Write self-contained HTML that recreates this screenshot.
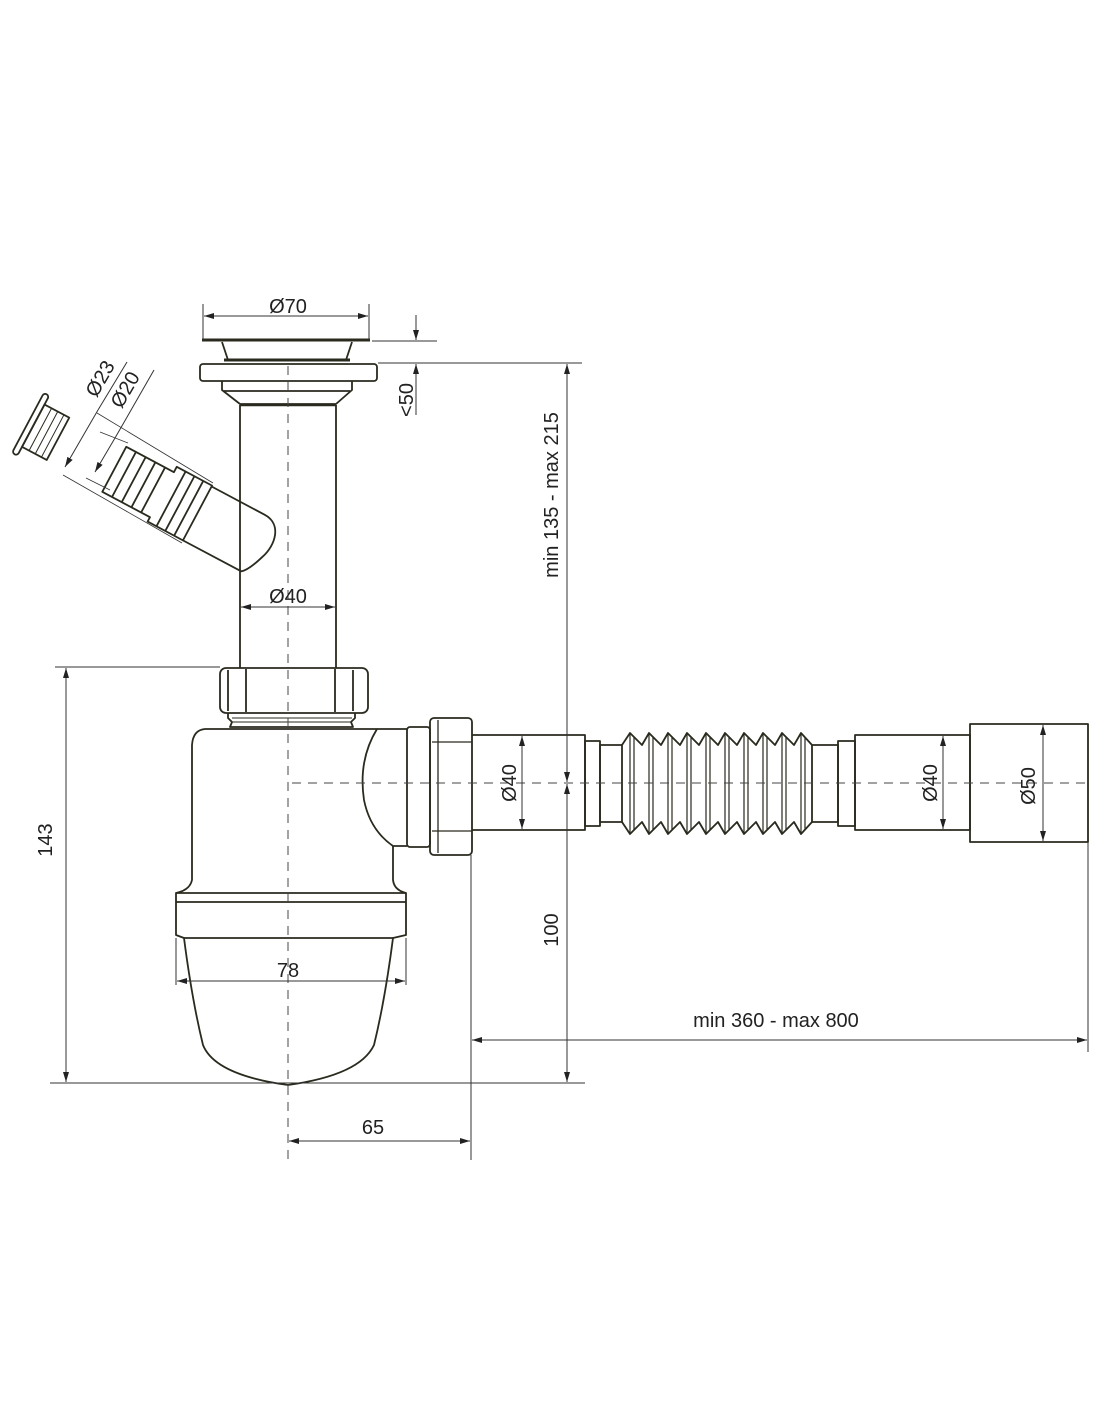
<!DOCTYPE html>
<html><head><meta charset="utf-8"><style>
html,body{margin:0;padding:0;background:#fff;}
svg{display:block}
text{font-family:"Liberation Sans",sans-serif;font-size:20px;fill:#222;}
</style></head><body>
<svg width="1100" height="1422" viewBox="0 0 1100 1422" xmlns="http://www.w3.org/2000/svg">
<defs>
<marker id="a" viewBox="0 0 10 6" refX="10" refY="3" markerWidth="10" markerHeight="6" orient="auto-start-reverse" markerUnits="userSpaceOnUse"><path d="M0,0 L10,3 L0,6 z" fill="#222"/></marker>
</defs>
<g fill="none" stroke="#2a2a1e" stroke-width="1.8" stroke-linejoin="round">
<path d="M202,340 L370,340" stroke-width="3"/>
<path d="M222,342 L228,360 L346,360 L352,342"/>
<path d="M224,360 L350,360" stroke-width="3"/>
<rect x="200" y="364" width="177" height="17" rx="3"/>
<path d="M222,381 L222,390 L240,404 L336,404 L352,390 L352,381"/>
<path d="M224,391 L350,391"/>
<path d="M240,405 L336,405" stroke-width="2.5"/>
<path d="M240,405 L240,668 M336,405 L336,668"/>
<g transform="translate(197.5,513) rotate(28)">
<path d="M0,-30 L60,-30 C80,-30 84,-8 78,8 C74,20 70,28 66,31 L0,31"/>
<path d="M-94,-25 L-40,-25 L-40,-31 L0,-31 L0,31 L-40,31 L-40,26 L-94,26 Z"/>
<path d="M-83,-25 L-83,26 M-72,-25 L-72,26 M-61,-25 L-61,26 M-50,-25 L-50,26 M-30,-31 L-30,31 M-20,-31 L-20,31 M-10,-31 L-10,31"/>
<rect x="-192" y="-34" width="6" height="68" rx="3"/>
<rect x="-186" y="-24" width="28" height="48"/>
<path d="M-178,-24 L-178,24 M-171,-24 L-171,24 M-164,-24 L-164,24" stroke-width="1"/>
</g>
<rect x="220" y="668" width="148" height="45" rx="6"/>
<path d="M228,670 L228,711 M246,669 L246,712 M335,669 L335,712 M353,670 L353,711"/>
<path d="M228,713 L228,718 L232,722 L230,727 L353,727 L351,722 L355,718 L355,713"/>
<path d="M232,718 L352,718 M232,722 L352,722" stroke-width="1"/>
<path d="M377,729 L205,729 Q193,730 192,745 L192,880 Q190,890 176,893 L176,935 L184,938 Q192,1000 203,1045 Q215,1075 288,1085 Q360,1075 374,1045 Q385,1000 393,938 L406,935 L406,893 Q394,890 393,880 L393,846"/>
<path d="M176,893 L406,893 M176,902 L406,902 M184,938 L393,938"/>
<path d="M377,729 Q358,760 364,800 Q370,830 393,846 L407,846"/>
<path d="M377,729 L407,729"/>
<rect x="407" y="727" width="23" height="120" rx="3"/>
<rect x="430" y="718" width="42" height="137" rx="4"/>
<path d="M432,742 L472,742 M432,831 L472,831 M438,720 L438,853" stroke-width="1.3"/>
<path d="M472,735 L585,735 L585,830 L472,830"/>
<rect x="585" y="741" width="15" height="85"/>
<rect x="600" y="745" width="22" height="77"/>
<path d="M622,745 L630,733 L642,745 L649,733 L661,745 L668,733 L680,745 L687,733 L699,745 L706,733 L718,745 L725,733 L737,745 L744,733 L756,745 L763,733 L775,745 L782,733 L794,745 L801,733 L812,745"/>
<path d="M622,822 L630,834 L642,822 L649,834 L661,822 L668,834 L680,822 L687,834 L699,822 L706,834 L718,822 L725,834 L737,822 L744,834 L756,822 L763,834 L775,822 L782,834 L794,822 L801,834 L812,822"/>
<path d="M630,733 L630,834 M634,737 L634,830 M649,733 L649,834 M653,737 L653,830 M668,733 L668,834 M672,737 L672,830 M687,733 L687,834 M691,737 L691,830 M706,733 L706,834 M710,737 L710,830 M725,733 L725,834 M729,737 L729,830 M744,733 L744,834 M748,737 L748,830 M763,733 L763,834 M767,737 L767,830 M782,733 L782,834 M786,737 L786,830 M801,733 L801,834 M805,737 L805,830" stroke-width="1.2"/>
<rect x="812" y="745" width="26" height="77"/>
<rect x="838" y="741" width="17" height="85"/>
<rect x="855" y="735" width="115" height="95"/>
<rect x="970" y="724" width="118" height="118"/>
</g>
<g stroke="#444" stroke-width="1" stroke-dasharray="9,7" fill="none">
<path d="M288,366 L288,1160"/>
<path d="M292,783 L1090,783"/>
</g>
<g stroke="#333" stroke-width="1" fill="none">
<path d="M203,304 L203,340 M369,304 L369,340"/>
<path d="M204,316 L368,316" marker-start="url(#a)" marker-end="url(#a)"/>
<path d="M372,341 L437,341 M378,363 L582,363"/>
<path d="M416,315 L416,340" marker-end="url(#a)"/>
<path d="M416,415 L416,364" marker-end="url(#a)"/>
<path d="M241,607 L335,607" marker-start="url(#a)" marker-end="url(#a)"/>
<path d="M65,467 L98,410" marker-start="url(#a)"/>
<path d="M98,410 L127,362"/>
<path d="M95,472 L115,438" marker-start="url(#a)"/>
<path d="M115,438 L154,370"/>
<path d="M63,475 L182,543 M97,413 L213,483" stroke-width="0.8"/>
<path d="M86,478 L110,490 M100,432 L128,443" stroke-width="0.8"/>
<path d="M567,364 L567,782" marker-start="url(#a)" marker-end="url(#a)"/>
<path d="M567,784 L567,1082" marker-start="url(#a)" marker-end="url(#a)"/>
<path d="M50,1083 L585,1083"/>
<path d="M55,667 L220,667"/>
<path d="M66,668 L66,1082" marker-start="url(#a)" marker-end="url(#a)"/>
<path d="M176,938 L176,985 M406,938 L406,985"/>
<path d="M177,981 L405,981" marker-start="url(#a)" marker-end="url(#a)"/>
<path d="M471,855 L471,1160"/>
<path d="M289,1141 L470,1141" marker-start="url(#a)" marker-end="url(#a)"/>
<path d="M1088,842 L1088,1052"/>
<path d="M472,1040 L1087,1040" marker-start="url(#a)" marker-end="url(#a)"/>
<path d="M522,736 L522,829" marker-start="url(#a)" marker-end="url(#a)"/>
<path d="M943,736 L943,829" marker-start="url(#a)" marker-end="url(#a)"/>
<path d="M1043,725 L1043,841" marker-start="url(#a)" marker-end="url(#a)"/>
</g>
<text x="288" y="313" text-anchor="middle">Ø70</text>
<text x="288" y="603" text-anchor="middle">Ø40</text>
<text transform="translate(413,400) rotate(-90)" text-anchor="middle">&lt;50</text>
<text transform="translate(106,382) rotate(-60)" text-anchor="middle">Ø23</text>
<text transform="translate(131,393) rotate(-60)" text-anchor="middle">Ø20</text>
<text transform="translate(558,495) rotate(-90)" text-anchor="middle">min 135 - max 215</text>
<text transform="translate(558,930) rotate(-90)" text-anchor="middle">100</text>
<text transform="translate(52,840) rotate(-90)" text-anchor="middle">143</text>
<text x="288" y="977" text-anchor="middle">78</text>
<text x="373" y="1134" text-anchor="middle">65</text>
<text x="776" y="1027" text-anchor="middle">min 360 - max 800</text>
<text transform="translate(516,783) rotate(-90)" text-anchor="middle">Ø40</text>
<text transform="translate(937,783) rotate(-90)" text-anchor="middle">Ø40</text>
<text transform="translate(1035,786) rotate(-90)" text-anchor="middle">Ø50</text>
</svg>
</body></html>
